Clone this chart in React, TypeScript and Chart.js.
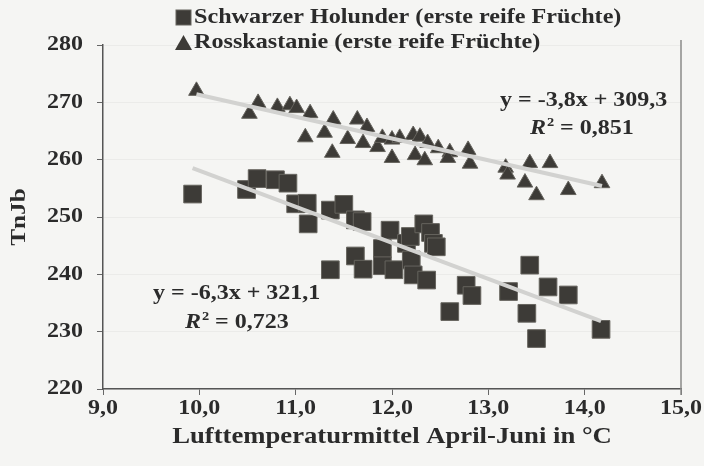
import { useEffect, useRef } from 'react';
import Chart from 'chart.js/auto';

// Schwarzer Holunder (erste reife Früchte)
const holunderX = [9.93, 10.49, 10.60, 10.79, 10.92, 11.00, 11.12, 11.13, 11.36, 11.50, 11.36, 11.62, 11.62, 11.69, 11.70, 11.98, 11.90, 11.90, 12.02, 12.15, 12.19, 12.20, 12.22, 12.33, 12.40, 12.36, 12.43, 12.46, 12.60, 12.77, 12.83, 13.21, 13.43, 13.40, 13.50, 13.62, 13.83, 14.17];
const holunderY = [254.0, 254.8, 256.7, 256.5, 255.9, 252.3, 252.4, 248.8, 251.2, 252.2, 240.8, 243.2, 249.5, 249.2, 240.9, 247.7, 244.5, 241.5, 240.8, 245.4, 246.6, 242.5, 239.9, 248.8, 247.3, 239.0, 245.4, 244.8, 233.5, 238.1, 236.3, 237.0, 241.6, 233.2, 228.8, 237.8, 236.4, 230.4];

// Rosskastanie (erste reife Früchte)
const kastanieX = [9.97, 10.52, 10.61, 10.81, 10.94, 11.01, 11.15, 11.10, 11.30, 11.39, 11.38, 11.54, 11.64, 11.70, 11.74, 11.85, 11.90, 12.00, 12.00, 12.08, 12.22, 12.29, 12.24, 12.34, 12.37, 12.48, 12.60, 12.58, 12.79, 12.81, 13.18, 13.20, 13.43, 13.64, 13.38, 13.50, 13.83, 14.18];
const kastanieY = [272.0, 268.0, 269.9, 269.2, 269.5, 269.0, 268.1, 263.9, 264.7, 267.0, 261.2, 263.6, 267.0, 262.9, 265.7, 262.2, 263.8, 260.3, 263.5, 263.8, 264.3, 264.0, 260.8, 259.9, 262.9, 262.0, 261.3, 260.3, 261.7, 259.3, 258.6, 257.4, 259.4, 259.4, 256.0, 253.8, 254.7, 255.9];

// Trend equations shown in the chart
const holunderFit = [-6.3, 321.1];
const kastanieFit = [-3.8, 309.3];
const holunderLabels = ['y = -6,3x + 321,1', '= 0,723'];
const kastanieLabels = ['y = -3,8x + 309,3', '= 0,851'];
const legendLabels = ['Schwarzer Holunder (erste reife Früchte)', 'Rosskastanie (erste reife Früchte)'];
const xTitle = 'Lufttemperaturmittel April-Juni in °C';
const yTitle = 'TnJb';

const X_MIN = 9, X_MAX = 15, Y_MIN = 220, Y_MAX = 280;
const FONT = '"Liberation Serif", "Times New Roman", serif';
const MARK = '#3d3b37';
const MARK_BORDER = '#66645e';
const TEXT = '#2b2b2b';
const SX = 1.2;

function trend(xs: number[], fit: number[]) {
  const lo = Math.min(...xs), hi = Math.max(...xs);
  return [
    { x: lo, y: fit[0] * lo + fit[1] },
    { x: hi, y: fit[0] * hi + fit[1] },
  ];
}

function sText(ctx: CanvasRenderingContext2D, text: string, x: number, y: number, font: string, sx: number, align: string) {
  ctx.save();
  ctx.font = font;
  ctx.textBaseline = 'middle';
  ctx.textAlign = 'left';
  const w = ctx.measureText(text).width * sx;
  const left = align === 'left' ? x : align === 'center' ? x - w / 2 : x - w;
  ctx.translate(left, y);
  ctx.scale(sx, 1);
  ctx.fillText(text, 0, 0);
  ctx.restore();
  return w;
}

const overlay = {
  id: 'overlay',
  beforeDraw(chart: any) {
    const { ctx, width, height } = chart;
    ctx.save();
    ctx.fillStyle = '#f5f5f3';
    ctx.fillRect(0, 0, width, height);
    ctx.restore();
  },
  afterDraw(chart: any) {
    const { ctx, chartArea, scales } = chart;
    ctx.save();
    // right frame line
    ctx.strokeStyle = '#8a8a88';
    ctx.lineWidth = 1.5;
    ctx.beginPath();
    ctx.moveTo(chartArea.right, chartArea.top - 5);
    ctx.lineTo(chartArea.right, chartArea.bottom + 6);
    ctx.stroke();

    ctx.fillStyle = TEXT;
    const f20 = `bold 20px ${FONT}`;
    // tick labels
    scales.y.ticks.forEach((t: any) => {
      sText(ctx, String(t.value), 83, scales.y.getPixelForValue(t.value), f20, SX, 'right');
    });
    scales.x.ticks.forEach((t: any) => {
      sText(ctx, Number(t.value).toFixed(1).replace('.', ','), scales.x.getPixelForValue(t.value), 409, f20, SX, 'center');
    });
    // axis titles
    sText(ctx, xTitle, (chartArea.left + chartArea.right) / 2, 437, `bold 23px ${FONT}`, 1.16, 'center');
    ctx.save();
    ctx.translate(20, (chartArea.top + chartArea.bottom) / 2);
    ctx.rotate(-Math.PI / 2);
    sText(ctx, yTitle, 0, 0, `bold 21px ${FONT}`, 1.2, 'center');
    ctx.restore();

    // legend
    ctx.fillStyle = MARK;
    ctx.strokeStyle = MARK_BORDER;
    ctx.lineWidth = 1;
    ctx.fillRect(176, 10, 15, 15);
    ctx.strokeRect(176, 10, 15, 15);
    ctx.beginPath();
    ctx.moveTo(183.5, 35);
    ctx.lineTo(192, 50);
    ctx.lineTo(175, 50);
    ctx.closePath();
    ctx.fill();
    ctx.fillStyle = TEXT;
    sText(ctx, legendLabels[0], 194, 18, `bold 21px ${FONT}`, 1.15, 'left');
    sText(ctx, legendLabels[1], 194, 43, `bold 21px ${FONT}`, 1.15, 'left');

    // equations
    const drawR2 = (x: number, y: number, rest: string) => {
      const w = sText(ctx, 'R', x, y, `italic bold 20px ${FONT}`, SX, 'left');
      sText(ctx, '2', x + w + 1, y - 6, `bold 12px ${FONT}`, SX, 'left');
      sText(ctx, rest, x + w + 14, y, f20, SX, 'left');
    };
    sText(ctx, kastanieLabels[0], 500, 101, f20, SX, 'left');
    drawR2(530, 129, kastanieLabels[1]);
    sText(ctx, holunderLabels[0], 153, 294, f20, SX, 'left');
    drawR2(185, 323, holunderLabels[1]);
    ctx.restore();
  },
};

export default function App() {
  const ref = useRef<HTMLCanvasElement | null>(null);
  useEffect(() => {
    document.body.style.margin = '0';
    const canvas = ref.current!;
    const chart = new Chart(canvas, {
      type: 'scatter',
      data: {
        datasets: [
          {
            type: 'line',
            data: trend(kastanieX, kastanieFit),
            borderColor: '#d2d2d0',
            borderWidth: 4,
            pointRadius: 0,
            order: 0,
          },
          {
            type: 'line',
            data: trend(holunderX, holunderFit),
            borderColor: '#d2d2d0',
            borderWidth: 4,
            pointRadius: 0,
            order: 0,
          },
          {
            label: legendLabels[0],
            data: holunderX.map((x, i) => ({ x, y: holunderY[i] })),
            pointStyle: 'rect',
            pointRadius: 12.5,
            backgroundColor: MARK,
            borderColor: MARK_BORDER,
            borderWidth: 1,
            order: 1,
          },
          {
            label: legendLabels[1],
            data: kastanieX.map((x, i) => ({ x, y: kastanieY[i] })),
            pointStyle: 'triangle',
            pointRadius: 9,
            backgroundColor: MARK,
            borderColor: MARK_BORDER,
            borderWidth: 1,
            order: 1,
          },
        ],
      },
      options: {
        animation: false,
        responsive: false,
        layout: { padding: { top: 45, right: 23, left: 0, bottom: 0 } },
        plugins: { legend: { display: false }, tooltip: { enabled: false } },
        scales: {
          x: {
            type: 'linear',
            min: X_MIN,
            max: X_MAX,
            afterFit: (s: any) => { s.height = 77; },
            ticks: { stepSize: 1, display: false },
            grid: { drawOnChartArea: false, tickLength: 6, tickColor: '#666' },
            border: { color: '#555', width: 1.5 },
          },
          y: {
            min: Y_MIN,
            max: Y_MAX,
            afterFit: (s: any) => { s.width = 103; },
            ticks: { stepSize: 10, display: false },
            grid: { color: 'rgba(0,0,0,0.04)', tickLength: 6, tickColor: '#666' },
            border: { color: '#555', width: 1.5 },
          },
        },
      },
      plugins: [overlay],
    });
    return () => chart.destroy();
  }, []);
  return <canvas ref={ref} width={704} height={466} style={{ display: 'block', width: 704, height: 466 }} />;
}
